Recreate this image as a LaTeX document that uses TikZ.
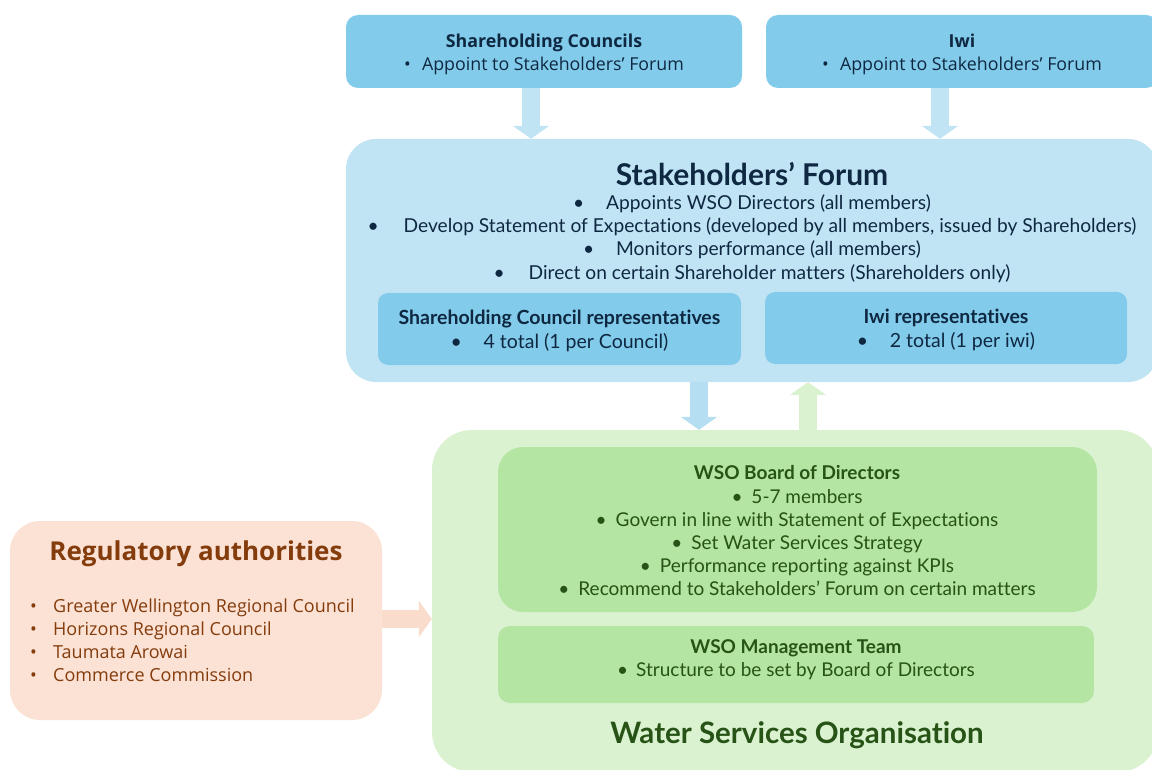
\documentclass[tikz,border=0pt]{standalone}
\usepackage{fontspec}
\setmainfont{Open Sans}
\newfontfamily\nar[Ligatures=NoCommon]{Lato}
\usetikzlibrary{arrows.meta,calc}
\definecolor{sky}{HTML}{83CBEB}
\definecolor{pale}{HTML}{C1E4F5}
\definecolor{arrblue}{HTML}{B5DEF2}
\definecolor{navy}{HTML}{0E2841}
\definecolor{gpale}{HTML}{DAF2D0}
\definecolor{gmid}{HTML}{B4E5A2}
\definecolor{gdark}{HTML}{275317}
\definecolor{peach}{HTML}{FBE2D5}
\definecolor{peachar}{HTML}{F9DCCB}
\definecolor{brown}{HTML}{843C0C}
\newcommand{\bul}[1]{\makebox[#1][l]{•}}
\begin{document}
\begin{tikzpicture}[x=1pt,y=-1pt,
  panel/.style={draw=none,inner sep=0pt,rounded corners=#1},
  txt/.style={inner sep=0pt,align=center},
  fat/.style={line width=18pt,-{Triangle[width=36pt,length=13pt]},draw=#1}]
\useasboundingbox (0,0) rectangle (1152,770);
\clip (0,0) rectangle (1152,770);
% top boxes
\node[panel=12pt,fill=sky,minimum width=396pt,minimum height=73pt] (sc) at (544,51.5) {};
\node[panel=12pt,fill=sky,minimum width=392pt,minimum height=73pt] (iwi) at (962,51.5) {};
% stakeholders forum
\node[panel=30pt,fill=pale,minimum width=812pt,minimum height=243pt] (sf) at (752,260.5) {};
\node[panel=10pt,fill=sky,minimum width=363pt,minimum height=72pt] (scr) at (559.5,329) {};
\node[panel=10pt,fill=sky,minimum width=362pt,minimum height=72pt] (iwr) at (946,328) {};
% WSO
\node[panel=40pt,fill=gpale,minimum width=726pt,minimum height=342pt] (wso) at (795,601) {};
\node[panel=25pt,fill=gmid,minimum width=599pt,minimum height=165pt] (board) at (797.5,529.5) {};
\node[panel=12pt,fill=gmid,minimum width=596pt,minimum height=77pt] (mgmt) at (796,664.5) {};
% regulatory
\node[panel=30pt,fill=peach,minimum width=372pt,minimum height=199pt] (reg) at (196,620.5) {};

% arrows
\draw[fat=pale] ([xshift=-13pt]sc.south) -- ([xshift=-13pt]sc.south |- sf.north);
\draw[fat=pale] ([xshift=-22pt]iwi.south) -- ([xshift=-22pt]iwi.south |- sf.north);
\draw[fat=arrblue] ([xshift=-53pt]sf.south) -- ([xshift=-53pt]sf.south |- wso.north);
\draw[fat=gpale] ([xshift=13pt]wso.north) -- ([xshift=13pt]wso.north |- sf.south);
\draw[fat=peachar] ([yshift=1.5pt]reg.east) -- ([yshift=1.5pt]reg.east -| wso.west);

% texts top
\node[txt,text=navy,font=\fontsize{17.8}{23}\selectfont] (sct) at (544,54) {\textbf{Shareholding Councils}\\\bul{18pt}Appoint to Stakeholders’ Forum};
\node[txt,text=navy,font=\fontsize{17.8}{23}\selectfont] (iwit) at (962,54) {\textbf{Iwi}\\\bul{18pt}Appoint to Stakeholders’ Forum};

% SF texts
\node[txt,text=navy,font=\nar\bfseries\fontsize{30}{32}\selectfont] (sft) at (752,174) {Stakeholders’ Forum};
\node[txt,text=navy,font=\nar\fontsize{19.2}{23.4}\selectfont] (sfb) at (752,238.5) {\bul{33pt}Appoints WSO Directors (all members)\\
\bul{36pt}Develop Statement of Expectations (developed by all members, issued by Shareholders)\\
\bul{33pt}Monitors performance (all members)\\
\bul{35pt}Direct on certain Shareholder matters (Shareholders only)};
\node[txt,text=navy,font=\nar\fontsize{19.5}{23.3}\selectfont] (scrt) at (559.5,331) {\textbf{Shareholding Council representatives}\\\bul{33pt}4 total (1 per Council)};
\node[txt,text=navy,font=\nar\fontsize{19.5}{23.3}\selectfont] (iwrt) at (946,330) {\textbf{Iwi representatives}\\\bul{33pt}2 total (1 per iwi)};

% WSO texts
\node[txt,text=gdark,font=\nar\fontsize{19}{23.2}\selectfont] (boardt) at (797,531) {\textbf{WSO Board of Directors}\\
\bul{20pt}5-7 members\\
\bul{20pt}Govern in line with Statement of Expectations\\
\bul{20pt}Set Water Services Strategy\\
\bul{20pt}Performance reporting against KPIs\\
\bul{20pt}Recommend to Stakeholders’ Forum on certain matters};
\node[txt,text=gdark,font=\nar\fontsize{19}{23.2}\selectfont] (mgmtt) at (796,660) {\textbf{WSO Management Team}\\\bul{19pt}Structure to be set by Board of Directors};
\node[txt,text=gdark,font=\nar\bfseries\fontsize{29.5}{32}\selectfont] (wsot) at (797,735) {Water Services Organisation};

% regulatory texts
\node[txt,text=brown,font=\bfseries\fontsize{26}{30}\selectfont] (regt) at (196,554) {Regulatory authorities};
\node[txt,align=left,anchor=west,text=brown,font=\fontsize{18}{23}\selectfont] (regb) at (30,640.5) {\bul{23pt}Greater Wellington Regional Council\\
\bul{23pt}Horizons Regional Council\\
\bul{23pt}Taumata Arowai\\
\bul{23pt}Commerce Commission};
\end{tikzpicture}
\end{document}
